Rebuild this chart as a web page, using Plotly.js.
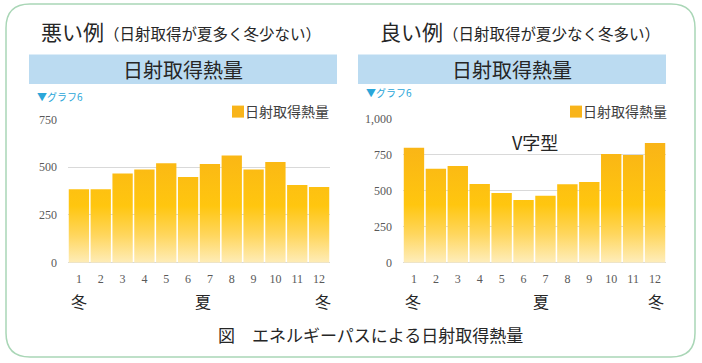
<!DOCTYPE html>
<html>
<head>
<meta charset="utf-8">
<script src="https://cdn.plot.ly/plotly-3.0.1.min.js"></script>
<style>
html,body{margin:0;padding:0;background:#fff;}
#chart{width:702px;height:363px;}
.barlayer .bars path{fill:url(#bargrad) !important;}
.legend .legendpoints path, .legend2 .legendpoints path{transform:translate(33px,0px);}
</style>
</head>
<body>
<svg width="0" height="0" style="position:absolute">
  <defs>
    <linearGradient id="bargrad" gradientUnits="userSpaceOnUse" x1="0" y1="0" x2="0" y2="144">
      <stop offset="0" stop-color="#F6AE1C"/>
      <stop offset="0.3" stop-color="#FBB914"/>
      <stop offset="0.6" stop-color="#FFC60F"/>
      <stop offset="0.8" stop-color="#FFD65C"/>
      <stop offset="1" stop-color="#FEEDBA"/>
    </linearGradient>
  </defs>
</svg>
<div id="chart"></div>
<script>
// ---- data ----
const months = ['1','2','3','4','5','6','7','8','9','10','11','12'];
const badValues = [385, 385, 467, 488, 521, 449, 517, 561, 488, 528, 407, 397];
const goodValues = [796, 651, 670, 545, 483, 434, 464, 543, 559, 753, 746, 829];
const seriesName = '日射取得熱量';
const badTicks = [0, 250, 500, 750];
const goodTicks = [0, 250, 500, 750, 1000];
const goodTickText = ['0', '250', '500', '750', '1,000'];

// ---- helpers ----
const W = 702, H = 363;
const px = x => x / W;
const py = y => 1 - y / H;
const FONT = '"Noto Sans CJK JP", "Noto Sans", sans-serif';
const TICKFONT = {family: '"Liberation Serif", serif', size: 12, color: '#595959'};

const traces = [
  {type: 'bar', x: months, y: badValues, name: seriesName, xaxis: 'x', yaxis: 'y',
   marker: {color: '#F8B41A', line: {width: 0}}, legend: 'legend', showlegend: true, hoverinfo: 'skip'},
  {type: 'bar', x: months, y: goodValues, name: seriesName, xaxis: 'x2', yaxis: 'y2',
   marker: {color: '#F8B41A', line: {width: 0}}, legend: 'legend2', showlegend: true, hoverinfo: 'skip'}
];

const axX = {type: 'category', showgrid: false, showline: false, zeroline: false,
  tickfont: TICKFONT, ticks: '', ticklabelstandoff: 7, fixedrange: true};
const axY = {showgrid: true, gridcolor: '#D9D9D9', gridwidth: 1, zeroline: true,
  zerolinecolor: '#D9D9D9', zerolinewidth: 1, showline: false, ticks: '',
  tickfont: TICKFONT, ticklabelstandoff: 10, fixedrange: true};

function roundRect(x0, y0, x1, y1, r) {
  const P = (x, y) => px(x) + ',' + py(y);
  return 'M' + P(x0 + r, y0) + ' L' + P(x1 - r, y0) + ' Q' + P(x1, y0) + ' ' + P(x1, y0 + r) +
    ' L' + P(x1, y1 - r) + ' Q' + P(x1, y1) + ' ' + P(x1 - r, y1) +
    ' L' + P(x0 + r, y1) + ' Q' + P(x0, y1) + ' ' + P(x0, y1 - r) +
    ' L' + P(x0, y0 + r) + ' Q' + P(x0, y0) + ' ' + P(x0 + r, y0) + ' Z';
}

function ann(text, x, y, size, opts) {
  return Object.assign({xref: 'paper', yref: 'paper', x: px(x), y: py(y), text: text,
    showarrow: false, xanchor: 'center', yanchor: 'middle',
    font: {family: FONT, size: size, color: '#262626'}}, opts || {});
}

const layout = {
  width: W, height: H,
  margin: {l: 0, r: 0, t: 0, b: 0},
  paper_bgcolor: '#FFFFFF', plot_bgcolor: 'rgba(0,0,0,0)',
  font: {family: FONT},
  showlegend: true,
  bargap: 0.07,
  xaxis: Object.assign({}, axX, {domain: [px(68), px(330)], anchor: 'y'}),
  yaxis: Object.assign({}, axY, {domain: [py(262.7), py(119.5)], range: [0, 750],
    tickvals: badTicks, anchor: 'x'}),
  xaxis2: Object.assign({}, axX, {domain: [px(403), px(666)], anchor: 'y2'}),
  yaxis2: Object.assign({}, axY, {domain: [py(262.7), py(118.3)], range: [0, 1000],
    tickvals: goodTicks, ticktext: goodTickText, anchor: 'x2'}),
  legend: {x: px(334), xanchor: 'right', y: py(96), yanchor: 'top',
    bgcolor: 'rgba(0,0,0,0)', font: {family: FONT, size: 14, color: '#404040'},
    itemwidth: 30, tracegroupgap: 0},
  legend2: {x: px(672), xanchor: 'right', y: py(96), yanchor: 'top',
    bgcolor: 'rgba(0,0,0,0)', font: {family: FONT, size: 14, color: '#404040'},
    itemwidth: 30, tracegroupgap: 0},
  shapes: [
    {type: 'path', xref: 'paper', yref: 'paper', path: roundRect(6, 4, 695, 357, 24),
     line: {color: '#A9D6B6', width: 1.5}, fillcolor: 'rgba(0,0,0,0)', layer: 'below'},
    {type: 'rect', xref: 'paper', yref: 'paper', x0: px(29), x1: px(337), y0: py(84), y1: py(54.5),
     line: {width: 0}, fillcolor: '#BBDBF1', layer: 'below'},
    {type: 'rect', xref: 'paper', yref: 'paper', x0: px(358), x1: px(666), y0: py(84), y1: py(54.5),
     line: {width: 0}, fillcolor: '#BBDBF1', layer: 'below'},
    // white mask behind the right legend text (the 1,000 gridline stops there)
    {type: 'rect', xref: 'paper', yref: 'paper', x0: px(568), x1: px(667), y0: py(119.5), y1: py(103),
     line: {width: 0}, fillcolor: '#FFFFFF', layer: 'above'}
  ],
  annotations: [
    ann('悪い例<span style="font-size:15.5px">（日射取得が夏多く冬少ない）</span>', 39, 31, 21, {xanchor: 'left'}),
    ann('良い例<span style="font-size:15.5px">（日射取得が夏少なく冬多い）</span>', 378, 31, 21, {xanchor: 'left'}),
    ann('日射取得熱量', 183, 70, 20),
    ann('日射取得熱量', 512, 70, 20),
    ann('▼グラフ6', 35, 96, 10, {xanchor: 'left', font: {family: FONT, size: 10, color: '#2AA6D9'}}),
    ann('▼グラフ6', 364, 92, 10, {xanchor: 'left', font: {family: FONT, size: 10, color: '#2AA6D9'}}),
    ann('V字型', 535, 142, 18),
    ann('冬', 79, 301, 16), ann('夏', 203, 301, 16), ann('冬', 323, 301, 16),
    ann('冬', 413, 301, 16), ann('夏', 541, 301, 16), ann('冬', 656, 301, 16),
    ann('図　エネルギーパスによる日射取得熱量', 370, 334, 17)
  ]
};

Plotly.newPlot('chart', traces, layout, {displayModeBar: false, staticPlot: true});
</script>
</body>
</html>
